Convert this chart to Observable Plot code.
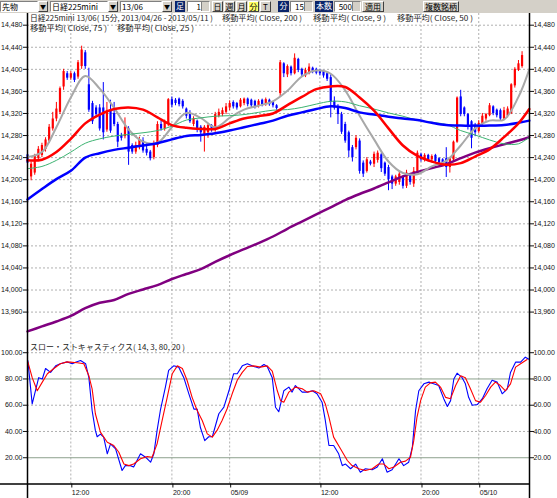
<!DOCTYPE html>
<html><head><meta charset="utf-8">
<script src="https://cdn.jsdelivr.net/npm/d3@7"></script>
<script src="https://cdn.jsdelivr.net/npm/@observablehq/plot@0.6"></script>
<style>
body{margin:0;background:#fff;width:557px;height:498px;overflow:hidden;position:relative}
#tb{position:absolute;left:0;top:0;width:557px;height:13px;background:#d4d0c8}
.t{position:absolute;top:1px;height:11px;box-sizing:border-box;font:8px/9px "Noto Sans CJK JP",sans-serif;color:#000;white-space:nowrap;overflow:hidden;text-align:center}
.box{background:#fff;border:1px solid;border-color:#808080 #fff #fff #808080;text-align:left;padding-left:1px}
.arr{background:#d4d0c8;border:1px solid;border-color:#fff #404040 #404040 #fff;font-size:6px;line-height:9px}
.nav{background:#0a246a;color:#fff}
.btn{background:#d4d0c8;border:1px solid;border-color:#fff #404040 #404040 #fff}
.yel{background:#ffff66}
.inp{background:#fff;border:1px solid;border-color:#808080 #fff #fff #808080;text-align:right;padding-right:8px}
.inp i{position:absolute;right:0;top:0;width:7px;height:9px;background:#d4d0c8;border-left:1px solid #808080}
#main{position:absolute;left:0;top:13px}
#stoch{position:absolute;left:0;top:340px}
</style>
</head><body>
<div id="tb">
  <div class="t box" style="left:0;width:38px">先物</div><div class="t arr" style="left:38px;width:10px">▼</div>
  <div class="t box" style="left:50px;width:58px">日経225mini</div><div class="t arr" style="left:108px;width:10px">▼</div>
  <div class="t box" style="left:120px;width:42px">13/06</div><div class="t arr" style="left:162px;width:10px">▼</div>
  <div class="t nav" style="left:175px;width:10px">足</div>
  <div class="t inp" style="left:187px;width:23px">1<i></i></div>
  <div class="t btn" style="left:212px;width:11px">日</div>
  <div class="t btn" style="left:224px;width:11px">週</div>
  <div class="t btn" style="left:236px;width:11px">月</div>
  <div class="t btn yel" style="left:248px;width:11px">分</div>
  <div class="t btn" style="left:260px;width:11px">T</div>
  <div class="t nav" style="left:278px;width:11px">分</div>
  <div class="t inp" style="left:290px;width:23px">15<i></i></div>
  <div class="t nav" style="left:315px;width:18px">本数</div>
  <div class="t inp" style="left:334px;width:27px">500<i></i></div>
  <div class="t btn" style="left:362px;width:22px">適用</div>
  <div class="t btn" style="left:423px;width:36px">複数銘柄</div>
</div>
<div id="main"></div>
<div id="stoch"></div>
<script>
// ---- candle data (15-min bars, index 0..137) ----
const open  = [14245,14205,14212,14238,14244,14255,14270,14292,14310,14322,14368,14392,14384,14392,14386,14405,14430,14372,14338,14330,
14330,14330,14290,14325,14320,14300,14280,14278,14292,14262,14250,14258,14270,14255,14250,14240,14262,14300,14292,14300,
14345,14344,14346,14342,14328,14320,14300,14306,14295,14282,14285,14298,14290,14315,14318,14322,14330,14340,14338,14332,
14338,14346,14344,14342,14333,14344,14336,14344,14340,14334,14356,14410,14390,14404,14392,14418,14400,14388,14392,14402,
14400,14398,14396,14392,14385,14342,14332,14318,14300,14285,14258,14258,14270,14230,14215,14232,14228,14235,14245,14230,
14222,14205,14192,14195,14205,14188,14208,14192,14215,14245,14236,14244,14236,14244,14238,14236,14238,14222,14236,14268,
14350,14330,14318,14305,14296,14287,14300,14310,14316,14332,14326,14325,14310,14315,14320,14370,14398,14405];
const close = [14230,14228,14242,14255,14262,14272,14295,14310,14328,14365,14396,14384,14392,14380,14412,14435,14405,14326,14305,14318,
14292,14285,14322,14288,14300,14268,14275,14295,14250,14250,14262,14272,14252,14248,14238,14262,14300,14292,14305,14345,
14335,14338,14336,14332,14315,14305,14310,14292,14285,14295,14298,14290,14318,14322,14325,14332,14338,14332,14330,14344,
14346,14336,14334,14332,14342,14336,14345,14336,14334,14329,14412,14392,14405,14392,14420,14398,14390,14398,14404,14395,
14393,14392,14388,14382,14340,14330,14318,14286,14270,14252,14240,14275,14215,14210,14236,14228,14246,14248,14220,14210,
14200,14192,14205,14210,14188,14212,14195,14215,14248,14236,14244,14236,14242,14233,14230,14228,14222,14238,14268,14348,
14318,14318,14298,14275,14285,14302,14315,14318,14334,14320,14316,14310,14325,14328,14372,14400,14410,14425];
const high  = [14250,14232,14246,14260,14266,14276,14300,14322,14340,14368,14400,14396,14396,14395,14416,14442,14434,14402,14342,14334,
14336,14376,14340,14344,14340,14304,14284,14312,14296,14265,14268,14277,14276,14265,14253,14270,14305,14307,14308,14347,
14350,14347,14348,14345,14330,14325,14314,14308,14298,14298,14302,14300,14322,14328,14330,14338,14343,14343,14340,14347,
14348,14348,14346,14344,14345,14346,14348,14346,14342,14336,14416,14412,14408,14406,14428,14420,14402,14402,14410,14404,
14402,14400,14398,14394,14390,14350,14336,14322,14304,14288,14262,14280,14274,14234,14240,14235,14250,14252,14248,14232,
14226,14208,14208,14214,14207,14217,14210,14222,14252,14248,14247,14246,14245,14246,14240,14238,14258,14240,14270,14350,
14362,14332,14320,14307,14302,14307,14320,14320,14338,14334,14328,14328,14331,14332,14374,14403,14416,14432];
const low   = [14225,14198,14208,14234,14240,14250,14266,14288,14305,14318,14362,14380,14380,14376,14382,14400,14400,14322,14300,14312,
14288,14272,14286,14284,14296,14258,14270,14274,14226,14246,14246,14254,14248,14243,14234,14236,14258,14288,14288,14296,
14330,14334,14332,14328,14310,14302,14296,14285,14268,14250,14275,14286,14286,14312,14314,14318,14325,14328,14326,14330,
14334,14332,14330,14328,14330,14332,14333,14333,14330,14326,14350,14385,14385,14388,14390,14394,14386,14385,14390,14392,
14390,14388,14384,14378,14312,14326,14300,14282,14266,14240,14232,14254,14210,14204,14212,14225,14222,14230,14213,14206,
14180,14182,14188,14190,14183,14184,14190,14186,14211,14232,14232,14232,14232,14229,14226,14224,14204,14212,14232,14266,
14314,14314,14290,14256,14278,14284,14298,14306,14314,14316,14312,14306,14308,14312,14318,14366,14396,14402];

// ---- moving averages, sampled every 4 bars ----
const maIdx = [0,4,8,12,16,20,24,28,32,36,40,44,48,52,56,60,64,68,72,76,80,84,88,92,96,100,104,108,112,116,120,124,128,132,136,139];
const ma200 = [13925,13934,13943,13953,13967,13977,13982,13993,14001,14009,14020,14029,14038,14051,14063,14074,14085,14097,14111,14124,14137,14150,14163,14174,14184,14195,14206,14214,14221,14228,14239,14249,14257,14264,14271,14277];
const ma9   = [14241,14250,14295,14349,14388,14365,14330,14291,14269,14267,14295,14321,14312,14295,14312,14327,14334,14342,14361,14387,14398,14392,14362,14316,14273,14233,14212,14210,14224,14234,14262,14293,14307,14309,14350,14400];
const ma50  = [14220,14224,14235,14250,14266,14274,14279,14282,14285,14289,14297,14308,14312,14315,14316,14318,14322,14326,14327,14331,14337,14342,14341,14334,14328,14321,14315,14308,14304,14300,14289,14281,14272,14265,14265,14277];
const ma75  = [14164,14183,14201,14216,14240,14248,14254,14258,14262,14266,14273,14279,14281,14284,14289,14295,14301,14307,14316,14322,14328,14333,14330,14322,14318,14314,14311,14308,14303,14299,14298,14298,14298,14299,14303,14307];
const ma25  = [14235,14236,14250,14274,14302,14318,14328,14331,14327,14313,14299,14294,14292,14292,14302,14311,14315,14320,14335,14350,14364,14369,14368,14349,14325,14293,14262,14243,14233,14227,14230,14242,14255,14277,14302,14328];

// ---- slow stochastics ----
const kIdx = [0.1,1.3,3.1,4.1,5,6.4,7.8,9.1,11,12.4,13.3,14.7,16.1,17,17.9,18.8,19.3,20.2,21.1,22.1,23,24.4,26.2,27.1,28.5,29.4,31.3,32.7,34.1,35,35.9,36.8,38.2,39.1,40.5,41.9,43.3,44.7,46.1,47,47.9,49.1,50.2,51.2,53,54.4,55.8,57.1,58.1,59.5,60.9,62.7,64.1,65.5,66.4,67.8,68.7,69.6,71,72.4,73.3,74.2,75.2,76.1,77.5,78.9,80.2,81.6,82.5,83.5,84.8,86.2,87.2,88.1,89.5,90.9,92.2,93.6,95.5,96.9,98.3,99.6,101,102.9,104.2,105.6,106.6,107.5,108.4,109.8,111.2,112.5,113.9,115.3,116.3,117.2,118.1,119,120.4,121.3,122.2,123.2,124.6,126,127.3,128.7,130.1,131.5,132.9,133.8,135.2,136.6,137.9,138.9];
const kVal = [94,61,81,80,88,85,90,91.6,93,91.6,92.8,94,91.6,81,56,40.8,36,38,35.7,23,30.6,26.8,10.3,14,14,13,23,20.4,16.6,23,40.8,56,73.8,86.5,90,89,81,68.7,57,57,43,33,36,36,53.5,58.5,71,84,84,90,91.6,89.5,88.4,91,89.5,81,58.5,55,71,73.8,70,75,72.5,70,70,71,68.7,62.3,48.4,29.3,29.3,23,14,15.2,11.6,15.2,9,11.6,10.8,13,19.2,9,10.8,19.2,14,16.6,28,56,71,76.3,77.6,76.3,75,65,59,63.5,80,84.4,81,76.3,66,60,60.5,65,72.5,79,77.6,68.7,72.5,85,92.8,92.8,96.6,95];
const dIdx = [0.1,1.3,2.7,4.1,5.5,7.3,9.1,11,13.8,15.6,17,17.9,18.8,20.2,22.1,23.9,25.3,26.7,28.1,29.4,31.3,33.2,34.5,35.9,37.3,38.7,40.1,41.5,42.9,44.2,45.6,47,48.4,49.8,51.2,52.5,53.9,55.3,56.7,58.1,59.5,60.9,62.7,64.5,66.4,67.8,69.2,70.1,71,72.4,74.2,76.1,77.5,79.3,81.2,82.5,83.5,84.8,86.7,88.6,89.9,91.8,93.6,95.5,97.3,98.7,100.1,101.5,103.3,104.7,106.1,107,107.9,108.9,110.2,111.6,113,114.4,115.8,117.2,118.6,120,121.3,122.7,124.1,125.5,126.9,128.3,129.6,131,132.4,133.8,135.2,136.6,138.4];
const dVal = [93,81,71,77.6,84,88,91.6,93,92.4,91.6,82.4,72.5,53.5,39.5,31.8,29.3,24.2,15.2,14,15.2,19.2,21,20.4,30.6,48.4,66,84,90,88,79,66,56,48.4,38.2,35.7,40.8,48.4,57.3,68.7,79,85,89.5,90,89,90,86,71,63.5,62.3,70,73.8,72.5,70,71,68.7,61,51,35.7,26.8,17.9,14,11.6,10.3,11.6,15.2,15.2,11.6,13,16.6,17.4,20.4,33,51,63.5,73.8,77,77.6,73.8,66,65,75,82.4,81,72.5,63.5,62.3,67.4,73.8,77.6,75,71,76.3,89,91.6,94.8];

// ---- ticks ----
const priceTicks = [13960,14000,14040,14080,14120,14160,14200,14240,14280,14320,14360,14400,14440,14480];
const stochTicks = [100,80,60,40,20];
const timeTickIdx = [12,40,56,81,109,125];
const timeLabels = ["12:00","20:00","05/09","12:00","20:00","05/10"];

const headerLine1 = ["日経225mini 13/06( 15分, 2013/04/26 - 2013/05/11 )","移動平均( Close, 200 )","移動平均( Close, 9 )","移動平均( Close, 50 )"];
const headerLine2 = ["移動平均( Close, 75 )","移動平均( Close, 25 )"];
const stochTitle = "スロー・ストキャスティクス( 14, 3, 80, 20 )";

// ---- build tables ----
const bars = open.map((o, i) => ({i, o, c: close[i], h: high[i], l: low[i], up: close[i] >= o}));
const maSeries = (vals) => maIdx.map((x, k) => ({x, y: vals[k]}));
const kData = kIdx.map((x, j) => ({x, y: kVal[j]}));
const dData = dIdx.map((x, j) => ({x, y: dVal[j]}));

const xMax = 139.06;
const RED = "#ff0000", BLUE = "#0000ff";
const gridStyle = {stroke: "#b0b0b0", strokeOpacity: 1, strokeDasharray: "2,2"};
const axisFont = {fontFamily: "'Liberation Sans', Arial, sans-serif", fontSize: "7px", background: "transparent", overflow: "visible", color: "#111"};

const main = Plot.plot({
  width: 557, height: 327,
  marginLeft: 27, marginRight: 28, marginTop: 0, marginBottom: 0,
  x: {domain: [0, xMax], axis: null},
  y: {domain: [13908.5, 14501.2], axis: null},
  style: axisFont,
  marks: [
    Plot.gridY(priceTicks, gridStyle),
    Plot.gridX(timeTickIdx, gridStyle),
    Plot.ruleX(bars, {x: "i", y1: "l", y2: "h", stroke: d => d.up ? RED : BLUE, strokeWidth: 1}),
    Plot.ruleX(bars, {x: "i", y1: "o", y2: "c", stroke: d => d.up ? RED : BLUE, strokeWidth: 2.2}),
    Plot.line(maSeries(ma200), {x: "x", y: "y", stroke: "#800080", strokeWidth: 2.5, curve: "catmull-rom"}),
    Plot.line(maSeries(ma9), {x: "x", y: "y", stroke: "#a8a8a8", strokeWidth: 2, curve: "catmull-rom"}),
    Plot.line(maSeries(ma50), {x: "x", y: "y", stroke: "#3cb371", strokeWidth: 1, curve: "catmull-rom"}),
    Plot.line(maSeries(ma75), {x: "x", y: "y", stroke: "#0000ff", strokeWidth: 2.5, curve: "catmull-rom"}),
    Plot.line(maSeries(ma25), {x: "x", y: "y", stroke: "#ff0000", strokeWidth: 2.5, curve: "catmull-rom"}),
    Plot.axisY(priceTicks, {anchor: "left", tickSize: 4, tickPadding: 1, tickFormat: d3.format(","), label: null}),
    Plot.axisY(priceTicks, {anchor: "right", tickSize: 4, tickPadding: 0, tickFormat: d3.format(","), label: null}),
    Plot.ruleX([0, xMax], {stroke: "#000", strokeWidth: 1.5})
  ]
});
document.getElementById("main").append(main);

const hdr = d3.select(main).append("g")
  .attr("font-family", "'Noto Sans CJK JP', sans-serif").attr("font-size", 7.5)
  .attr("fill", "#222").attr("text-anchor", "start");
const line1X = [[30, 183], [222, 80], [313, 73], [397, 76]];
headerLine1.forEach((s, k) => hdr.append("text").attr("x", line1X[k][0]).attr("y", 8)
  .attr("textLength", line1X[k][1]).attr("lengthAdjust", "spacingAndGlyphs").text(s));
const line2X = [[30, 77], [117, 77]];
headerLine2.forEach((s, k) => hdr.append("text").attr("x", line2X[k][0]).attr("y", 18)
  .attr("textLength", line2X[k][1]).attr("lengthAdjust", "spacingAndGlyphs").text(s));

const stoch = Plot.plot({
  width: 557, height: 158,
  marginLeft: 27, marginRight: 28, marginTop: 0, marginBottom: 14.5,
  x: {domain: [0, xMax], axis: null},
  y: {domain: [0, 109.3], axis: null},
  style: axisFont,
  marks: [
    Plot.gridY([100, 60, 40], gridStyle),
    Plot.ruleX(timeTickIdx, {y1: 0, y2: 109.3, ...gridStyle}),
    Plot.ruleY([80, 20], {stroke: "#8ca08c", strokeWidth: 1}),
    Plot.line(kData, {x: "x", y: "y", stroke: BLUE, strokeWidth: 1.1}),
    Plot.line(dData, {x: "x", y: "y", stroke: RED, strokeWidth: 1.1}),
    Plot.axisY(stochTicks, {anchor: "left", tickSize: 4, tickPadding: 1, tickFormat: d => d.toFixed(2), label: null}),
    Plot.axisY(stochTicks, {anchor: "right", tickSize: 4, tickPadding: 0, tickFormat: d => d.toFixed(2), label: null}),
    Plot.axisX(timeTickIdx, {anchor: "bottom", tickSize: 4, tickPadding: 2, textAnchor: "start", dx: 1,
      tickFormat: d => timeLabels[timeTickIdx.indexOf(d)], label: null}),
    Plot.ruleY([0], {x1: -7.48, x2: xMax, stroke: "#000", strokeWidth: 1.5}),
    Plot.ruleX([0, xMax], {y1: -11.1, y2: 109.3, stroke: "#000", strokeWidth: 1.5})
  ]
});
document.getElementById("stoch").append(stoch);
d3.select(stoch).append("text")
  .attr("font-family", "'Noto Sans CJK JP', sans-serif").attr("font-size", 8).attr("fill", "#222")
  .attr("text-anchor", "start")
  .attr("x", 30).attr("y", 9.5).attr("textLength", 155).attr("lengthAdjust", "spacingAndGlyphs")
  .text(stochTitle);
</script>
</body></html>
